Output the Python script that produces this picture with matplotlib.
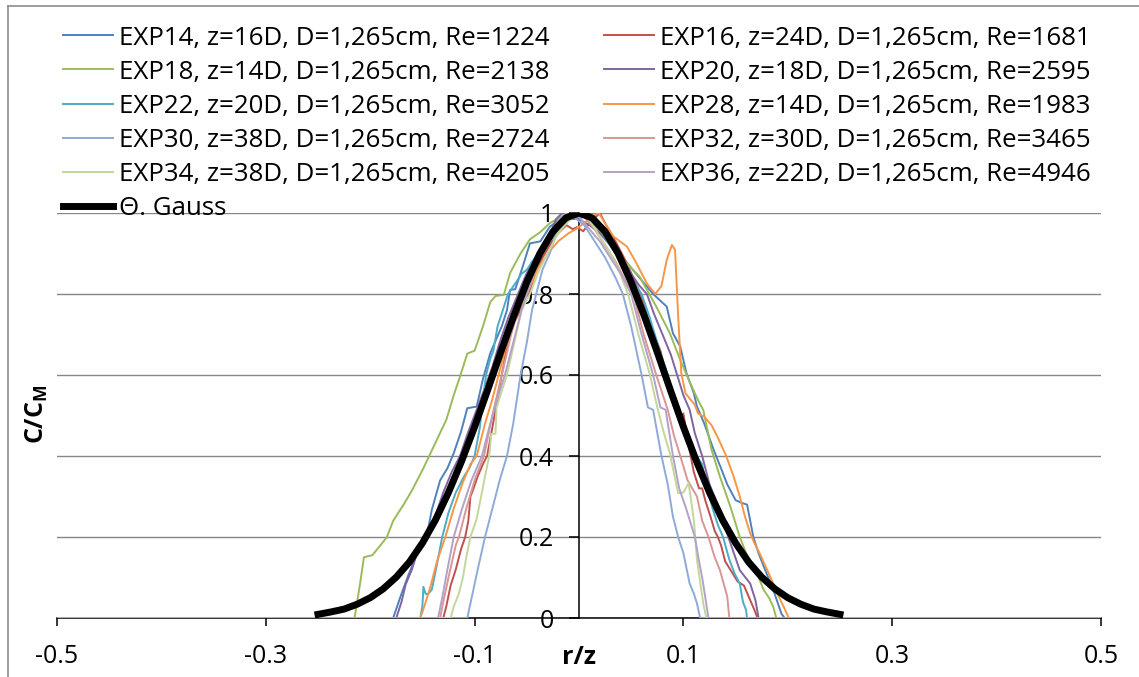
import matplotlib

matplotlib.use("Agg")
import matplotlib.pyplot as plt
from matplotlib.lines import Line2D

# ---- data (r/z, C/CM) ----
exp14_x = [-0.5, -0.178, -0.170, -0.164, -0.158, -0.152, -0.146, -0.141, -0.133, -0.126, -0.120, -0.113,
           -0.107, -0.098, -0.092, -0.085, -0.079, -0.074, -0.069, -0.066, -0.061, -0.054, -0.047, -0.037,
           -0.028, -0.015, -0.005, 0.005, 0.015, 0.030, 0.045, 0.058, 0.071, 0.084, 0.090, 0.097, 0.103,
           0.110, 0.113, 0.120, 0.129, 0.136, 0.142, 0.150, 0.156, 0.161, 0.167, 0.172, 0.177, 0.186,
           0.194, 0.197, 0.5]
exp14_y = [0, 0, 0.06, 0.102, 0.14, 0.185, 0.20, 0.267, 0.34, 0.37, 0.407, 0.46,
           0.518, 0.522, 0.59, 0.654, 0.69, 0.72, 0.76, 0.81, 0.812, 0.867, 0.925, 0.93,
           0.966, 0.99, 0.985, 0.99, 0.97, 0.93, 0.88, 0.84, 0.80, 0.769, 0.703, 0.670, 0.604,
           0.555, 0.522, 0.48, 0.415, 0.37, 0.33, 0.291, 0.284, 0.280, 0.20, 0.16, 0.127, 0.07,
           0.01, 0, 0]

exp16_x = [-0.5, -0.130, -0.127, -0.123, -0.118, -0.113, -0.109, -0.106, -0.104, -0.101, -0.097, -0.092,
           -0.088, -0.083, -0.079, -0.074, -0.069, -0.064, -0.058, -0.052, -0.048, -0.042, -0.035, -0.028,
           -0.020, -0.012, -0.006, -0.002, 0.004, 0.010, 0.016, 0.020, 0.026, 0.035, 0.045, 0.052, 0.059,
           0.065, 0.072, 0.078, 0.084, 0.088, 0.092, 0.098, 0.100, 0.104, 0.110, 0.115, 0.118, 0.121,
           0.126, 0.130, 0.133, 0.136, 0.140, 0.146, 0.152, 0.158, 0.163, 0.168, 0.171, 0.5]
exp16_y = [0, 0, 0.03, 0.08, 0.12, 0.17, 0.20, 0.24, 0.30, 0.32, 0.35, 0.38,
           0.40, 0.47, 0.53, 0.60, 0.67, 0.72, 0.75, 0.79, 0.80, 0.85, 0.89, 0.92,
           0.95, 0.97, 0.96, 0.965, 0.955, 0.975, 0.99, 1.0, 0.97, 0.93, 0.88, 0.84, 0.80,
           0.75, 0.70, 0.66, 0.60, 0.56, 0.52, 0.50, 0.505, 0.44, 0.36, 0.32, 0.32, 0.29,
           0.25, 0.215, 0.20, 0.18, 0.14, 0.115, 0.09, 0.08, 0.05, 0.02, 0, 0]

exp18_x = [-0.5, -0.215, -0.210, -0.206, -0.198, -0.190, -0.184, -0.178, -0.168, -0.160, -0.149, -0.138,
           -0.127, -0.120, -0.114, -0.107, -0.100, -0.092, -0.085, -0.080, -0.072, -0.066, -0.056, -0.047,
           -0.037, -0.028, -0.015, -0.005, 0.010, 0.026, 0.040, 0.058, 0.074, 0.087, 0.097, 0.106, 0.114,
           0.119, 0.127, 0.135, 0.145, 0.154, 0.164, 0.172, 0.177, 0.182, 0.186, 0.189, 0.5]
exp18_y = [0, 0, 0.08, 0.15, 0.155, 0.18, 0.20, 0.24, 0.28, 0.315, 0.37, 0.43,
           0.49, 0.55, 0.596, 0.653, 0.66, 0.72, 0.78, 0.795, 0.798, 0.852, 0.90, 0.935,
           0.953, 0.975, 0.993, 1.0, 0.99, 0.935, 0.89, 0.843, 0.769, 0.703, 0.637, 0.583, 0.538,
           0.514, 0.415, 0.349, 0.275, 0.20, 0.135, 0.10, 0.069, 0.05, 0.028, 0, 0]

exp20_x = [-0.5, -0.175, -0.170, -0.166, -0.160, -0.154, -0.146, -0.138, -0.130, -0.122, -0.114, -0.106,
           -0.098, -0.090, -0.083, -0.076, -0.068, -0.060, -0.052, -0.045, -0.040, -0.035, -0.028, -0.022,
           -0.016, -0.008, 0.0, 0.010, 0.020, 0.030, 0.040, 0.050, 0.058, 0.065, 0.072, 0.080, 0.088,
           0.094, 0.100, 0.106, 0.111, 0.118, 0.125, 0.135, 0.143, 0.154, 0.164, 0.169, 0.172, 0.5]
exp20_y = [0, 0, 0.04, 0.083, 0.12, 0.17, 0.20, 0.25, 0.31, 0.36, 0.40, 0.46,
           0.514, 0.57, 0.62, 0.68, 0.74, 0.79, 0.84, 0.88, 0.875, 0.92, 0.945, 0.985,
           1.0, 0.995, 0.985, 0.97, 0.95, 0.92, 0.89, 0.85, 0.82, 0.80, 0.75, 0.70, 0.65,
           0.60, 0.55, 0.514, 0.456, 0.40, 0.33, 0.267, 0.20, 0.118, 0.085, 0.044, 0, 0]

exp22_x = [-0.5, -0.152, -0.150, -0.149, -0.147, -0.145, -0.141, -0.137, -0.131, -0.125, -0.118, -0.110,
           -0.105, -0.100, -0.095, -0.093, -0.089, -0.085, -0.082, -0.078, -0.068, -0.060, -0.055, -0.050,
           -0.042, -0.032, -0.022, -0.012, -0.002, 0.008, 0.020, 0.030, 0.040, 0.050, 0.060, 0.068, 0.076,
           0.085, 0.093, 0.100, 0.106, 0.110, 0.114, 0.118, 0.122, 0.128, 0.133, 0.138, 0.144, 0.149,
           0.154, 0.157, 0.160, 0.161, 0.5]
exp22_y = [0, 0, 0.03, 0.077, 0.06, 0.058, 0.07, 0.12, 0.20, 0.26, 0.31, 0.35,
           0.37, 0.40, 0.47, 0.52, 0.60, 0.64, 0.66, 0.72, 0.80, 0.83, 0.85, 0.86,
           0.89, 0.93, 0.96, 0.98, 0.995, 0.99, 0.96, 0.92, 0.88, 0.84, 0.80, 0.74, 0.67,
           0.60, 0.52, 0.46, 0.43, 0.41, 0.394, 0.38, 0.33, 0.27, 0.23, 0.20, 0.144, 0.11,
           0.085, 0.04, 0.02, 0, 0]

exp28_x = [-0.5, -0.152, -0.148, -0.142, -0.136, -0.128, -0.120, -0.112, -0.104, -0.098, -0.090, -0.083,
           -0.077, -0.070, -0.062, -0.050, -0.040, -0.030, -0.020, -0.010, -0.003, 0.005, 0.012, 0.019,
           0.026, 0.033, 0.046, 0.055, 0.065, 0.073, 0.079, 0.084, 0.089, 0.092, 0.095, 0.098, 0.102,
           0.111, 0.114, 0.120, 0.127, 0.134, 0.141, 0.148, 0.154, 0.159, 0.164, 0.168, 0.173, 0.180,
           0.186, 0.191, 0.196, 0.201, 0.5]
exp28_y = [0, 0, 0.03, 0.08, 0.14, 0.20, 0.27, 0.33, 0.38, 0.40, 0.48, 0.54,
           0.60, 0.67, 0.74, 0.80, 0.86, 0.90, 0.93, 0.95, 0.96, 0.975, 0.99, 1.0,
           0.97, 0.942, 0.917, 0.876, 0.826, 0.80, 0.82, 0.884, 0.921, 0.909, 0.744, 0.604, 0.555,
           0.526, 0.505, 0.497, 0.476, 0.44, 0.40, 0.35, 0.30, 0.25, 0.209, 0.185, 0.16, 0.12,
           0.085, 0.055, 0.028, 0, 0]

exp30_x = [-0.5, -0.107, -0.102, -0.097, -0.090, -0.083, -0.076, -0.069, -0.063, -0.056, -0.050, -0.045,
           -0.041, -0.035, -0.028, -0.022, -0.017, -0.012, -0.005, 0.005, 0.015, 0.025, 0.035, 0.042,
           0.050, 0.060, 0.066, 0.071, 0.079, 0.085, 0.090, 0.095, 0.100, 0.106, 0.110, 0.113, 0.116, 0.5]
exp30_y = [0, 0, 0.06, 0.12, 0.20, 0.27, 0.34, 0.40, 0.48, 0.60, 0.68, 0.76,
           0.80, 0.86, 0.90, 0.95, 0.99, 1.0, 0.99, 0.97, 0.93, 0.89, 0.84, 0.80,
           0.72, 0.60, 0.52, 0.514, 0.40, 0.33, 0.25, 0.20, 0.16, 0.085, 0.06, 0.036, 0, 0]

exp32_x = [-0.5, -0.133, -0.130, -0.125, -0.118, -0.115, -0.108, -0.100, -0.091, -0.083, -0.074, -0.065,
           -0.056, -0.048, -0.040, -0.030, -0.020, -0.012, -0.004, 0.005, 0.015, 0.025, 0.035, 0.045,
           0.052, 0.062, 0.074, 0.085, 0.091, 0.097, 0.104, 0.113, 0.118, 0.124, 0.130, 0.135, 0.142,
           0.144, 0.5]
exp32_y = [0, 0, 0.04, 0.10, 0.18, 0.20, 0.27, 0.34, 0.40, 0.50, 0.60, 0.70,
           0.78, 0.83, 0.88, 0.93, 0.97, 0.99, 1.0, 0.99, 0.96, 0.92, 0.88, 0.83,
           0.80, 0.70, 0.60, 0.514, 0.45, 0.40, 0.34, 0.30, 0.24, 0.20, 0.15, 0.118, 0.053,
           0, 0]

exp34_x = [-0.5, -0.123, -0.120, -0.115, -0.111, -0.108, -0.104, -0.098, -0.093, -0.090, -0.086, -0.084,
           -0.080, -0.079, -0.074, -0.069, -0.062, -0.055, -0.047, -0.038, -0.030, -0.020, -0.010, 0.000,
           0.008, 0.018, 0.028, 0.038, 0.047, 0.058, 0.068, 0.075, 0.081, 0.087, 0.095, 0.100, 0.105,
           0.110, 0.113, 0.116, 0.119, 0.122, 0.5]
exp34_y = [0, 0, 0.028, 0.061, 0.102, 0.15, 0.20, 0.245, 0.31, 0.35, 0.40, 0.455,
           0.455, 0.52, 0.56, 0.60, 0.68, 0.76, 0.80, 0.86, 0.90, 0.95, 0.98, 1.0,
           0.99, 0.95, 0.91, 0.86, 0.80, 0.69, 0.60, 0.52, 0.46, 0.407, 0.308, 0.31, 0.333,
           0.242, 0.144, 0.09, 0.036, 0, 0]

exp36_x = [-0.5, -0.135, -0.131, -0.126, -0.120, -0.112, -0.103, -0.093, -0.085, -0.076, -0.071, -0.063,
           -0.055, -0.050, -0.042, -0.034, -0.026, -0.020, -0.014, -0.008, 0.0, 0.010, 0.020, 0.030,
           0.040, 0.050, 0.060, 0.071, 0.078, 0.083, 0.090, 0.096, 0.103, 0.111, 0.115, 0.118, 0.121,
           0.124, 0.5]
exp36_y = [0, 0, 0.05, 0.12, 0.20, 0.27, 0.34, 0.40, 0.48, 0.56, 0.60, 0.68,
           0.76, 0.80, 0.86, 0.91, 0.95, 0.98, 0.995, 1.0, 0.99, 0.96, 0.93, 0.89,
           0.85, 0.80, 0.70, 0.60, 0.52, 0.514, 0.40, 0.32, 0.267, 0.20, 0.14, 0.10, 0.05,
           0, 0]

gauss_x = [-0.25, -0.2375, -0.225, -0.2125, -0.2, -0.1875, -0.175, -0.1625, -0.15, -0.1375, -0.125,
           -0.1125, -0.1, -0.0875, -0.075, -0.0625, -0.05, -0.0375, -0.025, -0.0125, 0.0,
           0.0125, 0.025, 0.0375, 0.05, 0.0625, 0.075, 0.0875, 0.1, 0.1125, 0.125,
           0.1375, 0.15, 0.1625, 0.175, 0.1875, 0.2, 0.2125, 0.225, 0.2375, 0.25]
gauss_y = [0.009, 0.015, 0.022, 0.034, 0.050, 0.072, 0.101, 0.138, 0.185, 0.242, 0.310,
           0.387, 0.472, 0.563, 0.656, 0.746, 0.829, 0.900, 0.954, 0.988, 1.0,
           0.988, 0.954, 0.900, 0.829, 0.746, 0.656, 0.563, 0.472, 0.387, 0.310,
           0.242, 0.185, 0.138, 0.101, 0.072, 0.050, 0.034, 0.022, 0.015, 0.009]

series = [
    ("EXP14, z=16D, D=1,265cm, Re=1224", exp14_x, exp14_y, "#4F81BD"),
    ("EXP16, z=24D, D=1,265cm, Re=1681", exp16_x, exp16_y, "#C0504D"),
    ("EXP18, z=14D, D=1,265cm, Re=2138", exp18_x, exp18_y, "#9BBB59"),
    ("EXP20, z=18D, D=1,265cm, Re=2595", exp20_x, exp20_y, "#8064A2"),
    ("EXP22, z=20D, D=1,265cm, Re=3052", exp22_x, exp22_y, "#4BACC6"),
    ("EXP28, z=14D, D=1,265cm, Re=1983", exp28_x, exp28_y, "#F79646"),
    ("EXP30, z=38D, D=1,265cm, Re=2724", exp30_x, exp30_y, "#8EAAD8"),
    ("EXP32, z=30D, D=1,265cm, Re=3465", exp32_x, exp32_y, "#D99694"),
    ("EXP34, z=38D, D=1,265cm, Re=4205", exp34_x, exp34_y, "#C3D69B"),
    ("EXP36, z=22D, D=1,265cm, Re=4946", exp36_x, exp36_y, "#B3A2C7"),
]

x_ticks = [-0.5, -0.3, -0.1, 0.1, 0.3, 0.5]
x_labels = ["-0.5", "-0.3", "-0.1", "0.1", "0.3", "0.5"]
y_ticks = [0, 0.2, 0.4, 0.6, 0.8, 1.0]
y_labels = ["0", "0.2", "0.4", "0.6", "0.8", "1"]

plt.rcParams["font.family"] = ["Open Sans", "DejaVu Sans"]
plt.rcParams["mathtext.fontset"] = "custom"
plt.rcParams["mathtext.bf"] = "Open Sans:bold"
plt.rcParams["mathtext.rm"] = "Open Sans"
plt.rcParams["axes.unicode_minus"] = False

W, H = 1139, 677
FS = 18
FS_LEG = 18.6
fig = plt.figure(figsize=(W / 100, H / 100), dpi=100)
ax = fig.add_axes([57 / W, 59 / H, 1044 / W, 405 / H])

handles = {}
for label, xs, ys, color in series:
    (ln,) = ax.plot(xs, ys, color=color, lw=1.4, zorder=3, label=label)
    handles[label] = ln
(g,) = ax.plot(gauss_x, gauss_y, color="black", lw=5, zorder=4, label="Θ. Gauss")

ax.set_xlim(-0.5, 0.5)
ax.set_ylim(0, 1)
ax.set_xticks(x_ticks)
ax.set_xticklabels(x_labels)
ax.set_yticks(y_ticks)
ax.set_yticklabels(y_labels)
ax.yaxis.grid(True, color="#868686", lw=1.0, zorder=0)
ax.set_axisbelow(True)

for s in ("top", "right"):
    ax.spines[s].set_visible(False)
ax.spines["left"].set_position(("data", 0))
ax.spines["left"].set_color("black")
ax.spines["left"].set_linewidth(1.1)
ax.spines["bottom"].set_color("black")
ax.spines["bottom"].set_linewidth(1.1)
ax.tick_params(axis="y", direction="out", length=7, width=1.1, pad=11, labelsize=FS)
ax.tick_params(axis="x", direction="out", length=6, width=1.1, pad=13, labelsize=FS)

# legends: Excel style, two columns above the plot area
col1 = [series[i][0] for i in (0, 2, 4, 6, 8)]
col2 = [series[i][0] for i in (1, 3, 5, 7, 9)]
common = dict(frameon=False, fontsize=FS_LEG, handlelength=1.95, handletextpad=0.2,
              labelspacing=0.35, borderpad=0, borderaxespad=0, loc="upper left",
              bbox_transform=fig.transFigure)
leg1 = fig.legend([handles[l] for l in col1] + [g], col1 + ["Θ. Gauss"],
                  bbox_to_anchor=(63 / W, 1 - 25.5 / H), **common)
leg2 = fig.legend([handles[l] for l in col2], col2,
                  bbox_to_anchor=(604 / W, 1 - 25.5 / H), **common)

fig.text(37 / W, 1 - 414 / H, r"C/C$_\mathbf{M}$", rotation=90, ha="center", va="center",
         fontsize=FS, fontweight="bold")
fig.text(579 / W, 1 - 658 / H, "r/z", ha="center", va="center", fontsize=FS, fontweight="bold")

# chart-area border (top and left edges visible)
fig.add_artist(Line2D([8 / W, 8 / W], [0, 1 - 6 / H], color="#8c8c8c", lw=1.2))
fig.add_artist(Line2D([8 / W, 1], [1 - 6 / H, 1 - 6 / H], color="#8c8c8c", lw=1.2))

fig.savefig("out.png", dpi=100)
